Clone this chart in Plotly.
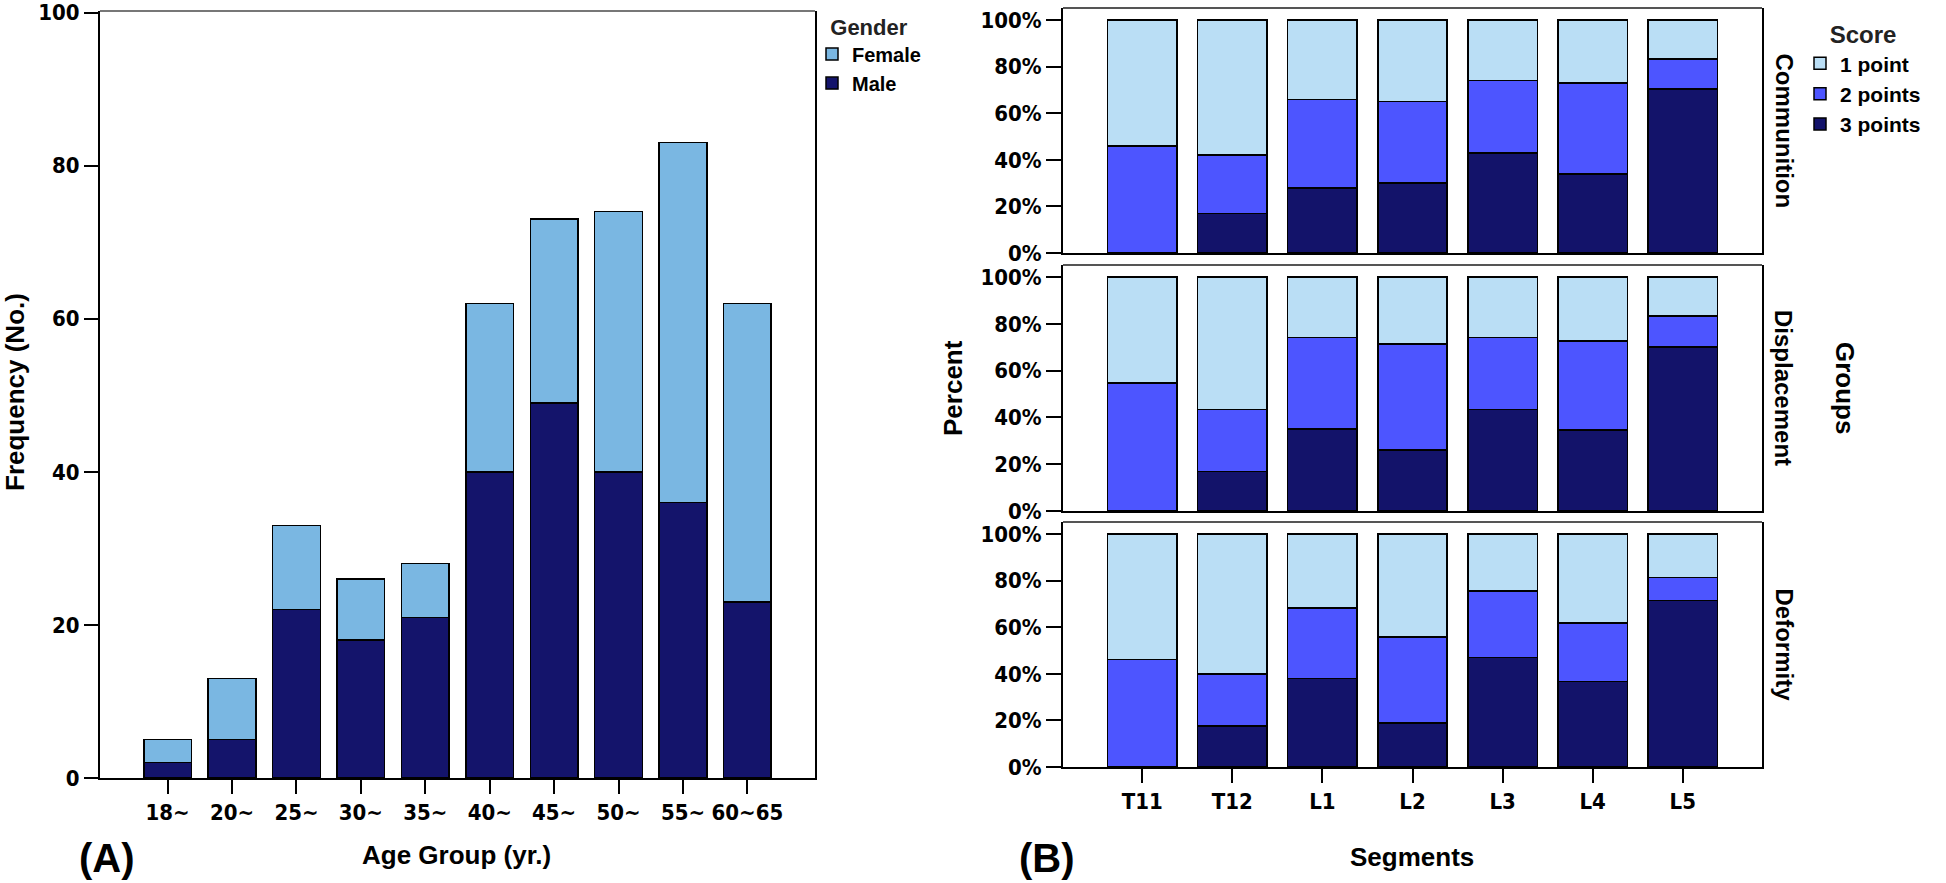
import plotly.graph_objects as go

# panel A: counts by age group
age_groups = ["18~", "20~", "25~", "30~", "35~", "40~", "45~", "50~", "55~", "60~65"]
male = [2, 5, 22, 18, 21, 40, 49, 40, 36, 23]
female = [3, 8, 11, 8, 7, 22, 24, 34, 47, 39]

# panel B: percent of each score per segment
segments = ["T11", "T12", "L1", "L2", "L3", "L4", "L5"]
groups = ["Communition", "Displacement", "Deformity"]
comm_3 = [0, 17, 28, 30, 43, 34, 70.5]
comm_2 = [46, 25, 38, 35, 31, 39, 12.8]
comm_1 = [54, 58, 34, 35, 26, 27, 16.7]
disp_3 = [0, 17, 35, 26, 43.5, 34.6, 70.1]
disp_2 = [54.7, 26.5, 39.2, 45.4, 30.7, 38.0, 13.2]
disp_1 = [45.3, 56.5, 25.8, 28.6, 25.8, 27.4, 16.7]
defo_3 = [0, 17.6, 38, 19, 47, 36.7, 71.5]
defo_2 = [46.2, 22.4, 30.3, 36.8, 28.5, 25.2, 9.8]
defo_1 = [53.8, 60, 31.7, 44.2, 24.5, 38.1, 18.7]
pct_ticks = [0, 20, 40, 60, 80, 100]

W, H = 1946, 883
NARROW = "Liberation Sans Narrow, DejaVu Sans Condensed, Arial Narrow, Liberation Sans"
SANS = "Liberation Sans, Arial, sans-serif"

C_FEMALE = "#7AB7E2"
C_MALE = "#14146B"
C_1 = "#BADEF5"
C_2 = "#4D55FF"
C_3 = "#13136A"


def px_x(p):
    return p / W


def px_y(p):
    return 1 - p / H


fig = go.Figure()
edge = dict(color="black", width=1.5)

fig.add_trace(go.Bar(x=age_groups, y=male, name="Male", marker=dict(color=C_MALE, line=edge),
                     width=0.74, xaxis="x", yaxis="y", legend="legend"))
fig.add_trace(go.Bar(x=age_groups, y=female, name="Female", marker=dict(color=C_FEMALE, line=edge),
                     width=0.74, xaxis="x", yaxis="y", legend="legend"))

panel_data = [(comm_3, comm_2, comm_1), (disp_3, disp_2, disp_1), (defo_3, defo_2, defo_1)]
for i, (s3, s2, s1) in enumerate(panel_data):
    ax = str(i + 2)
    for vals, name, col in [(s3, "3 points", C_3), (s2, "2 points", C_2), (s1, "1 point", C_1)]:
        fig.add_trace(go.Bar(x=segments, y=vals, name=name, marker=dict(color=col, line=edge),
                             width=0.77, xaxis="x" + ax, yaxis="y" + ax, legend="legend2",
                             legendgroup=name, showlegend=(i == 0)))

tickfont = dict(family=NARROW, size=22, color="black", weight="bold")
title_font = dict(family=SANS, size=26, color="black", weight="bold")

layout = dict(
    width=W, height=H, margin=dict(l=0, r=0, t=0, b=0),
    paper_bgcolor="white", plot_bgcolor="white",
    barmode="stack", bargap=0.26,
    xaxis=dict(domain=[px_x(100), px_x(815)], anchor="y", type="category", automargin=False,
               range=[-1.05, 10.05], showline=True, linecolor="black", linewidth=2,
               ticks="outside", ticklen=14, tickwidth=2, tickcolor="black",
               tickfont=tickfont, showgrid=False),
    yaxis=dict(domain=[px_y(778), px_y(11)], anchor="x", range=[0, 100.2], dtick=20,
               automargin=False,
               showline=True, linecolor="black", linewidth=2, mirror=True,
               ticks="outside", ticklen=14, tickwidth=2, tickcolor="black",
               ticklabeloverflow="allow",
               tickfont=tickfont, showgrid=False, zeroline=False),
)

facet_y = [(253, 8), (511, 265), (767, 522)]
for i, (yb, yt) in enumerate(facet_y):
    ax = str(i + 2)
    last = i == 2
    layout["xaxis" + ax] = dict(domain=[px_x(1063), px_x(1762)], anchor="y" + ax, type="category",
                                automargin=False,
                                range=[-0.88, 6.88], showline=True, linecolor="black", linewidth=2,
                                ticks="outside" if last else "", ticklen=14, tickwidth=2,
                                tickcolor="black", showticklabels=last, tickfont=tickfont,
                                showgrid=False)
    layout["yaxis" + ax] = dict(domain=[px_y(yb), px_y(yt)], anchor="x" + ax, range=[0, 105.2],
                                automargin=False,
                                tickmode="array", tickvals=pct_ticks,
                                ticktext=[f"{t}%" for t in pct_ticks],
                                showline=True, linecolor="black", linewidth=2, mirror=True,
                                ticks="outside", ticklen=15, tickwidth=2, tickcolor="black",
                                ticklabeloverflow="allow",
                                tickfont=tickfont, showgrid=False, zeroline=False)

layout["legend"] = dict(x=px_x(812), y=px_y(6), xanchor="left", yanchor="top",
                        traceorder="reversed", bgcolor="rgba(0,0,0,0)",
                        title=dict(text="Gender", side="top center",
                                   font=dict(family=SANS, size=22, color="#222", weight="bold")),
                        font=dict(family=SANS, size=20, color="black", weight="bold"),
                        itemwidth=30, tracegroupgap=0)
layout["legend2"] = dict(x=px_x(1800), y=px_y(12), xanchor="left", yanchor="top",
                         traceorder="reversed", bgcolor="rgba(0,0,0,0)",
                         title=dict(text="Score", side="top center",
                                    font=dict(family=SANS, size=24, color="#222", weight="bold")),
                         font=dict(family=SANS, size=21, color="black", weight="bold"),
                         itemwidth=30, tracegroupgap=0)
fig.update_layout(**layout)

# gray top edges of the frames
fig.add_shape(type="line", xref="x domain", yref="y domain", x0=0, x1=1, y0=1, y1=1,
              line=dict(color="#777", width=2))
for i in range(3):
    ax = str(i + 2)
    fig.add_shape(type="line", xref="x" + ax + " domain", yref="y" + ax + " domain",
                  x0=0, x1=1, y0=1, y1=1, line=dict(color="#555", width=2))

ann = []
ann.append(dict(text="Frequency (No.)", x=px_x(15), y=px_y(392), textangle=-90, font=title_font))
ann.append(dict(text="Age Group (yr.)", x=px_x(456), y=px_y(855), font=title_font))
ann.append(dict(text="(A)", x=px_x(107), y=px_y(858), font=dict(family=SANS, size=40, color="black",
                                                                weight="bold")))
ann.append(dict(text="Percent", x=px_x(953), y=px_y(388), textangle=-90, font=title_font))
ann.append(dict(text="Segments", x=px_x(1412), y=px_y(857), font=title_font))
ann.append(dict(text="(B)", x=px_x(1047), y=px_y(858), font=dict(family=SANS, size=40, color="black",
                                                                 weight="bold")))
ann.append(dict(text="Groups", x=px_x(1845), y=px_y(388), textangle=90,
                font=dict(family=SANS, size=26, color="black", weight="bold")))
for g, (yb, yt) in zip(groups, facet_y):
    ann.append(dict(text=g, x=px_x(1784), y=px_y((yb + yt) / 2), textangle=90,
                    font=dict(family=SANS, size=24, color="black", weight="bold")))
for a in ann:
    fig.add_annotation(xref="paper", yref="paper", showarrow=False, xanchor="center",
                       yanchor="middle", **a)

# the page's default body margin would push the figure 8px off the window
fig.write_html("out.html", config={"displayModeBar": False},
               post_script="document.body.style.margin = '0';")
